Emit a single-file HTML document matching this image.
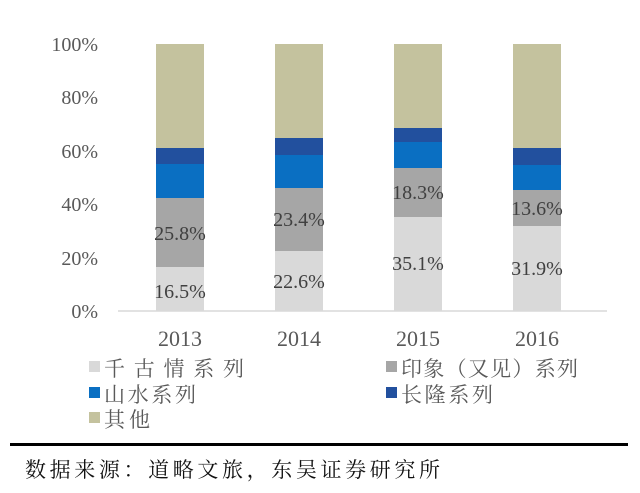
<!DOCTYPE html>
<html><head><meta charset="utf-8"><style>
body{margin:0;background:#fff;width:640px;height:488px;overflow:hidden}
svg text{font-family:"Liberation Serif","Noto Serif CJK SC","Noto Sans CJK SC",serif;fill:#595959}
</style></head><body>
<svg width="640" height="488" viewBox="0 0 640 488">
<g font-size="20" text-anchor="end">
<text x="98" y="51">100%</text><text x="98" y="104">80%</text><text x="98" y="158">60%</text>
<text x="98" y="211">40%</text><text x="98" y="265">20%</text><text x="98" y="318">0%</text>
</g>
<line x1="118" y1="311" x2="607" y2="311" stroke="#d9d9d9" stroke-width="1.5"/>
<g>
<rect x="156" y="267" width="48" height="44" fill="#d9d9d9"/>
<rect x="156" y="198" width="48" height="69" fill="#a6a6a6"/>
<rect x="156" y="164" width="48" height="34" fill="#0a6fc2"/>
<rect x="156" y="148" width="48" height="16" fill="#22509e"/>
<rect x="156" y="44" width="48" height="104" fill="#c4c29e"/>

<rect x="275" y="251" width="48" height="60" fill="#d9d9d9"/>
<rect x="275" y="188" width="48" height="63" fill="#a6a6a6"/>
<rect x="275" y="155" width="48" height="33" fill="#0a6fc2"/>
<rect x="275" y="138" width="48" height="17" fill="#22509e"/>
<rect x="275" y="44" width="48" height="94" fill="#c4c29e"/>

<rect x="394" y="217" width="48" height="94" fill="#d9d9d9"/>
<rect x="394" y="168" width="48" height="49" fill="#a6a6a6"/>
<rect x="394" y="142" width="48" height="26" fill="#0a6fc2"/>
<rect x="394" y="128" width="48" height="14" fill="#22509e"/>
<rect x="394" y="44" width="48" height="84" fill="#c4c29e"/>

<rect x="513" y="226" width="48" height="85" fill="#d9d9d9"/>
<rect x="513" y="190" width="48" height="36" fill="#a6a6a6"/>
<rect x="513" y="165" width="48" height="25" fill="#0a6fc2"/>
<rect x="513" y="148" width="48" height="17" fill="#22509e"/>
<rect x="513" y="44" width="48" height="104" fill="#c4c29e"/>
</g>
<g font-size="20" text-anchor="middle">
<text x="180" y="298" style="fill:#404040">16.5%</text><text x="180" y="240" style="fill:#404040">25.8%</text>
<text x="299" y="288" style="fill:#404040">22.6%</text><text x="299" y="226" style="fill:#404040">23.4%</text>
<text x="418" y="270" style="fill:#404040">35.1%</text><text x="418" y="199" style="fill:#404040">18.3%</text>
<text x="537" y="275" style="fill:#404040">31.9%</text><text x="537" y="215" style="fill:#404040">13.6%</text>
</g>
<g font-size="22" text-anchor="middle">
<text x="180" y="346">2013</text><text x="299" y="346">2014</text><text x="418" y="346">2015</text><text x="537" y="346">2016</text>
</g>
<g font-size="21">
<rect x="89" y="361" width="11" height="11" fill="#d9d9d9"/><text x="104" y="376" textLength="140" lengthAdjust="spacing">千古情系列</text>
<rect x="386" y="361" width="11" height="11" fill="#a6a6a6"/><text x="401" y="376" textLength="177" lengthAdjust="spacing">印象（又见）系列</text>
<rect x="89" y="387" width="11" height="11" fill="#0a6fc2"/><text x="104" y="402" textLength="92" lengthAdjust="spacing">山水系列</text>
<rect x="386" y="387" width="11" height="11" fill="#22509e"/><text x="401" y="402" textLength="92" lengthAdjust="spacing">长隆系列</text>
<rect x="89" y="412" width="11" height="11" fill="#c4c29e"/><text x="104" y="427" textLength="46" lengthAdjust="spacing">其他</text>
</g>
<rect x="10" y="443" width="618" height="3" fill="#000"/>
<text x="25" y="477" font-size="21" textLength="415" lengthAdjust="spacing" style="fill:#111">数据来源：道略文旅，东吴证券研究所</text>
</svg>
</body></html>
